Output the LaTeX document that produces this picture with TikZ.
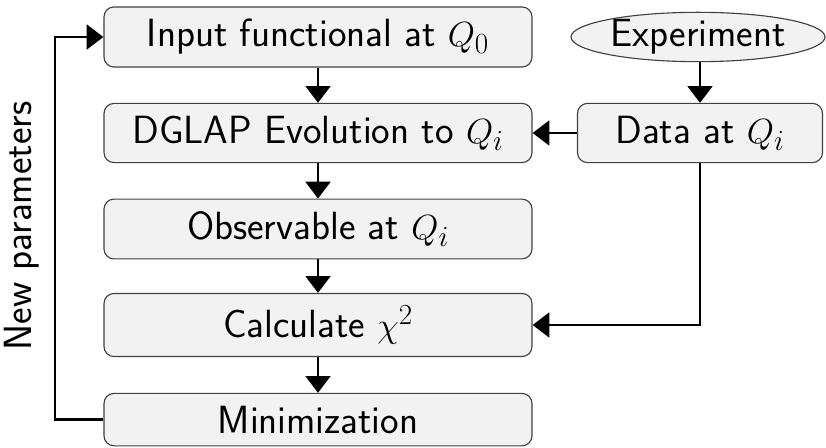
\documentclass[tikz,border=0pt]{standalone}
\usetikzlibrary{arrows.meta, shapes.geometric}

\begin{document}
\begin{tikzpicture}[line width = 1.9pt, font = \fontsize{28}{34}\selectfont\sffamily,
    stepbox/.style = { rectangle, rounded corners = 0.25cm, draw = black!75, line width = 0.8pt, fill = gray!10, minimum width = 10.7cm, inner ysep = 0.31cm },
    flow/.style = { -{Triangle[width = 0.62cm, length = 0.42cm]} }]
  \useasboundingbox (0, 0) rectangle (20.65, -11.175);

  \node [stepbox] (input) at (7.95, -0.925) {Input functional at $Q_0$};
  \node [stepbox] (dglap) at (7.95, -3.325) {DGLAP Evolution to $Q_i$};
  \node [stepbox] (observable) at (7.95, -5.725) {Observable at $Q_i$};
  \node [stepbox] (chisq) at (7.95, -8.125) {Calculate $\chi^2$};
  \node [stepbox] (minim) at (7.95, -10.49) {Minimization};

  \node [ellipse, draw = black!75, line width = 0.8pt, fill = gray!10, minimum width = 6.35cm, minimum height = 1.15cm, inner sep = 0pt] (experiment) at (17.45, -0.925) {Experiment};
  \node [stepbox, minimum width = 6.125cm] (data) at (17.5, -3.325) {Data at $Q_i$};

  \coordinate (loop) at (1.375, -10.49);
  \node [rotate = 90] (newpar) at (0.55, -5.65) {New parameters};

  \draw [flow] (input) -- (dglap);
  \draw [flow] (dglap) -- (observable);
  \draw [flow] (observable) -- (chisq);
  \draw [flow] (chisq) -- (minim);
  \draw [flow] (experiment.south -| data) -- (data);
  \draw [flow] (data) -- (dglap);
  \draw [flow] (data) |- (chisq);
  \draw [flow] (minim) -- (loop) |- (input);
\end{tikzpicture}
\end{document}
